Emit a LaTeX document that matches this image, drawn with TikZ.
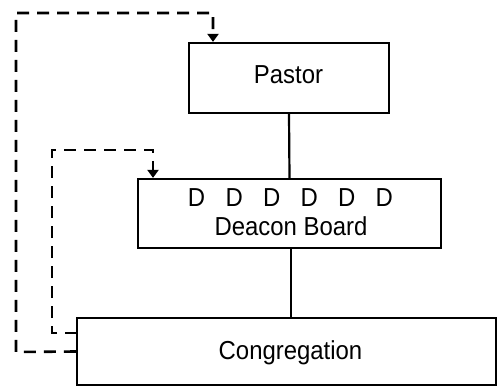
\documentclass[tikz,border=0pt]{standalone}
\usepackage{fontspec}
\setmainfont{Liberation Sans}[FakeStretch=0.92]
\usetikzlibrary{arrows.meta}
\begin{document}
\begin{tikzpicture}[x=1pt,y=-1pt,
  box/.style={draw,line width=2.2pt,inner sep=0pt},
  lbl/.style={font=\fontsize{26}{30}\selectfont,inner sep=0pt,anchor=base},
  link/.style={line width=2.2pt},
  fb/.style={line width=2.6pt,dash pattern=on 12pt off 8pt,-{Triangle[width=11pt,length=8pt]}}]
\useasboundingbox (0,0) rectangle (497,387);
\node[box,minimum width=200pt,minimum height=70pt] (pastor) at (289,78) {};
\node[box,minimum width=303pt,minimum height=69pt] (deacon) at (289.5,213.5) {};
\node[box,minimum width=419pt,minimum height=67pt] (cong) at (286.5,351.5) {};
\node[lbl] (tp) at (288.5,84) {Pastor};
\node[lbl] (td) at (290.5,207) {D\hspace{0.78em}D\hspace{0.78em}D\hspace{0.78em}D\hspace{0.78em}D\hspace{0.78em}D};
\node[lbl] (tdb) at (291,235) {Deacon Board};
\node[lbl] (tc) at (290.5,359) {Congregation};
\draw[link] (pastor.south) -- (deacon.north);
\draw[link] (deacon.south -| 291,0) -- (cong.north -| 291,0);
\coordinate (o1) at (16,352);
\coordinate (o2) at (16,13);
\coordinate (o3) at (213,13);
\coordinate (i0) at (77,333);
\coordinate (i1) at (52,333);
\coordinate (i2) at (52,150);
\coordinate (i3) at (153,150);
\draw[fb] (cong.west) -- (o1) -- (o2) -- (o3) -- (pastor.north -| o3);
\draw[fb] (i0) -- (i1) -- (i2) -- (i3) -- (deacon.north -| i3);
\end{tikzpicture}
\end{document}
